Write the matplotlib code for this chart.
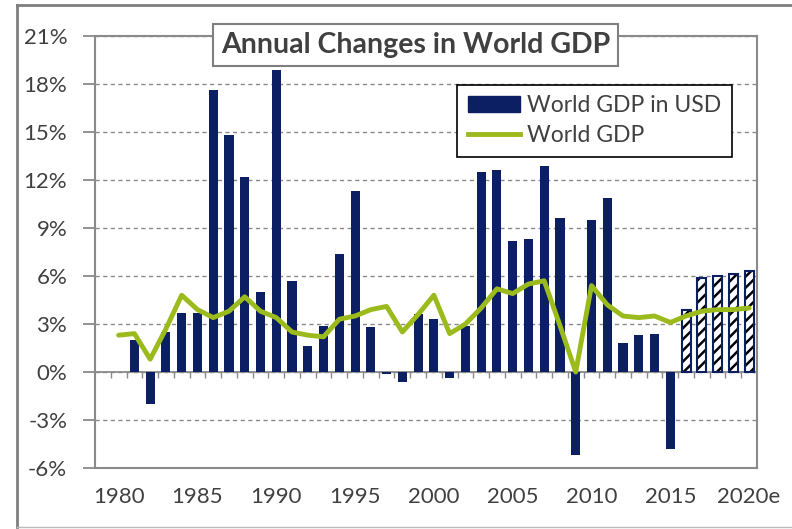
import numpy as np
import matplotlib
matplotlib.use("Agg")
import matplotlib.pyplot as plt
from matplotlib.lines import Line2D
from matplotlib.patches import Patch

plt.rcParams["font.family"] = ["Lato", "DejaVu Sans"]
plt.rcParams["hatch.linewidth"] = 1.8

# annual change, %
years = np.arange(1980, 2021)
gdp_usd = [np.nan, 2.0, -2.0, 2.5, 3.7, 3.7, 17.6, 14.8, 12.2, 5.0,
           18.9, 5.7, 1.6, 2.9, 7.4, 11.3, 2.8, -0.1, -0.6, 3.6,
           3.3, -0.4, 2.9, 12.5, 12.6, 8.2, 8.3, 12.9, 9.6, -5.2,
           9.5, 10.9, 1.8, 2.3, 2.4, -4.8, 3.9, 5.9, 6.0, 6.1, 6.3]
gdp_real = [2.3, 2.4, 0.8, 2.7, 4.8, 3.9, 3.4, 3.8, 4.7, 3.8,
            3.4, 2.5, 2.3, 2.2, 3.3, 3.5, 3.9, 4.1, 2.5, 3.6,
            4.8, 2.4, 3.0, 4.0, 5.2, 4.9, 5.5, 5.7, 2.9, 0.0,
            5.4, 4.2, 3.5, 3.4, 3.5, 3.1, 3.5, 3.8, 3.9, 3.9, 4.0]
first_estimate = 2016
label_years = [1980, 1985, 1990, 1995, 2000, 2005, 2010, 2015, 2020]
label_text = ["1980", "1985", "1990", "1995", "2000", "2005", "2010", "2015", "2020e"]
yticks = list(range(-6, 22, 3))

navy = "#0c1f62"
green = "#9bbb1c"
gray = "#8a8a8a"
txt = "#404040"

fig = plt.figure(figsize=(7.92, 5.29), dpi=100)
ax = fig.add_axes([95 / 792, 61 / 529, 662 / 792, 432 / 529])

usd = np.array(gdp_usd)
est = years >= first_estimate
ax.bar(years[~est], usd[~est], width=0.58, color=navy, zorder=2)
# forecast years: hatched
ax.bar(years[est], usd[est], width=0.58, facecolor="white", edgecolor="black",
       hatch="///", lw=0, zorder=2)
ax.bar(years[est], usd[est], width=0.58, facecolor="none", edgecolor=navy,
       lw=1.5, zorder=2.1)

ax.plot(years, gdp_real, color=green, lw=3.5, solid_joinstyle="round",
        solid_capstyle="round", zorder=3)

ax.axhline(0, color=gray, lw=1.3, zorder=1.5)
ax.vlines(np.arange(years[0] - 0.5, years[-1] + 1), -0.4, 0, color=gray, lw=1, zorder=1.5)

ax.set_xlim(years[0] - 1.5, years[-1] + 0.5)
ax.set_ylim(-6, 21)
ax.set_yticks(yticks)
ax.set_yticklabels([f"{v}%" for v in yticks])
ax.set_xticks(label_years)
ax.set_xticklabels(label_text)
ax.yaxis.grid(True, color=gray, lw=1, linestyle=(0, (3, 2.5)))
ax.set_axisbelow(True)

ax.tick_params(axis="y", length=9, width=1.3, color=gray, pad=11,
               labelsize=16, labelcolor=txt)
ax.tick_params(axis="x", length=0, pad=14, labelsize=16, labelcolor=txt)
for s in ax.spines.values():
    s.set_color(gray)
    s.set_linewidth(1.5)

ax.text(0.484, 0.979, "Annual Changes in World GDP", transform=ax.transAxes,
        ha="center", va="center", fontsize=20.5, fontweight="bold", color=txt,
        bbox=dict(boxstyle="square,pad=0.28", fc="white", ec="#7f7f7f", lw=1.5),
        zorder=10)

handles = [Patch(color=navy), Line2D([], [], color=green, lw=3.5)]
leg = ax.legend(handles, ["World GDP in USD", "World GDP"], loc="upper right",
                bbox_to_anchor=(0.962, 0.887), borderaxespad=0, fontsize=16.5,
                handlelength=2.3, handletextpad=0.3, labelspacing=0.4,
                borderpad=0.45, fancybox=False, framealpha=1, edgecolor="black")
leg.get_frame().set_linewidth(1.2)
for t in leg.get_texts():
    t.set_color(txt)

# outer chart frame
fig.add_artist(Line2D([17 / 792, 17 / 792], [2 / 529, 1 - 5 / 529],
                      transform=fig.transFigure, color="#7f7f7f", lw=2))
fig.add_artist(Line2D([17 / 792, 1], [1 - 5 / 529, 1 - 5 / 529],
                      transform=fig.transFigure, color="#7f7f7f", lw=2))
fig.add_artist(Line2D([17 / 792, 1], [2 / 529, 2 / 529],
                      transform=fig.transFigure, color="#bbbbbb", lw=1))

fig.savefig("out.png", dpi=100)
